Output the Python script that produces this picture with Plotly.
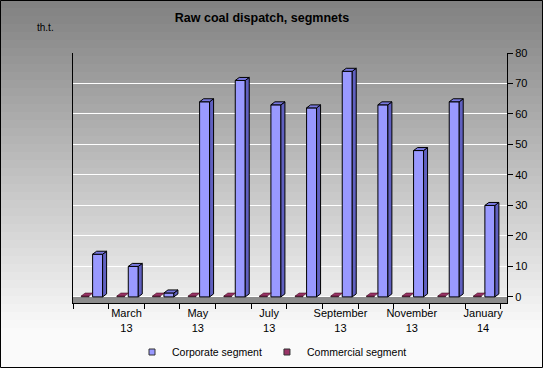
import plotly.graph_objects as go

# ---- data ----
months = ["February 13", "March 13", "April 13", "May 13", "June 13", "July 13",
          "August 13", "September 13", "October 13", "November 13", "December 13", "January 14"]
tick_labels = ["", "March<br>13", "", "May<br>13", "", "July<br>13",
               "", "September<br>13", "", "November<br>13", "", "January<br>14"]
corporate = [14, 10, 1.3, 64, 71, 63, 62, 74, 63, 48, 64, 30]
commercial = [0.3, 0.3, 0.3, 0.3, 0.3, 0.3, 0.3, 0.3, 0.3, 0.3, 0.3, 0.3]
y_ticks = [0, 10, 20, 30, 40, 50, 60, 70, 80]
series_names = ["Corporate segment", "Commercial segment"]

W, H = 543, 368
L, R, T, B = 73, 36, 53, 65
PW, PH = W - L - R, H - T - B
XR = [0.5, 12.67]
YR = [-2, 80]

xpos = list(range(1, len(months) + 1))

CORP_OFF, CORP_W = 0.05, 0.28
COM_OFF, COM_W = -0.27, 0.22
DX = 4 / (PW / (XR[1] - XR[0]))
DY = 3 / (PH / (YR[1] - YR[0]))

CORP_COL, COM_COL = "#9999ff", "#993366"

fig = go.Figure()

def faces(vals, off, w):
    sx, sy, tx, ty = [], [], [], []
    for c, v in zip(xpos, vals):
        xl = c + off
        xr = xl + w
        sx += [xr, xr + DX, xr + DX, xr, xr, None]
        sy += [0, DY, v + DY, v, 0, None]
        tx += [xl, xl + DX, xr + DX, xr, xl, None]
        ty += [v, v + DY, v + DY, v, v, None]
    return sx, sy, tx, ty

fig.add_trace(go.Bar(x=xpos, y=corporate, name=series_names[0], offset=CORP_OFF, width=CORP_W,
                     marker=dict(color=CORP_COL, line=dict(color="#000000", width=1)),
                     showlegend=False))
fig.add_trace(go.Bar(x=xpos, y=commercial, name=series_names[1], offset=COM_OFF, width=COM_W,
                     marker=dict(color=COM_COL, line=dict(color="#000000", width=0.5)),
                     showlegend=False))

sx, sy, tx, ty = faces(corporate, CORP_OFF, CORP_W)
fig.add_trace(go.Scatter(x=sx, y=sy, mode="lines", fill="toself", fillcolor="#6060c0",
                         line=dict(color="#000000", width=1), showlegend=False, hoverinfo="skip"))
fig.add_trace(go.Scatter(x=tx, y=ty, mode="lines", fill="toself", fillcolor="#7878e0",
                         line=dict(color="#000000", width=1), showlegend=False, hoverinfo="skip"))
sx, sy, tx, ty = faces(commercial, COM_OFF, COM_W)
fig.add_trace(go.Scatter(x=tx, y=ty, mode="lines", fill="toself", fillcolor=COM_COL,
                         line=dict(color="#330011", width=0.5), showlegend=False, hoverinfo="skip"))

# legend entries (small square markers, as in the reference)
for nm, col in zip(series_names, [CORP_COL, COM_COL]):
    fig.add_trace(go.Scatter(x=[None], y=[None], mode="markers", name=nm,
                             marker=dict(symbol="square", size=6, color=col,
                                         line=dict(color="#333333", width=1))))

# background gradient bands (paper coordinates)
shapes = []
n = 46
for i in range(n):
    p0 = H * i / n
    p1 = H * (i + 1) / n + 0.5
    pm = (p0 + p1) / 2
    v = int(round(128 + (250 - 128) * min(pm / 330.0, 1.0)))
    col = f"rgb({v},{v},{v})"
    shapes.append(dict(type="rect", xref="paper", yref="paper",
                       x0=-L / PW, x1=(W - L) / PW,
                       y0=(PH + T - p1) / PH, y1=(PH + T - p0) / PH,
                       fillcolor=col, line=dict(width=0), layer="below"))
shapes.append(dict(type="rect", xref="paper", yref="y", x0=0, x1=1, y0=YR[0], y1=0,
                   fillcolor="#8c8c8c", line=dict(width=0), layer="below"))
shapes.append(dict(type="rect", xref="paper", yref="paper",
                   x0=-L / PW + 0.5 / PW, x1=(W - L) / PW - 0.5 / PW,
                   y0=-B / PH + 0.5 / PH, y1=(PH + T) / PH - 0.5 / PH,
                   fillcolor="rgba(0,0,0,0)", line=dict(color="#000000", width=1), layer="above"))

fig.update_layout(
    width=W, height=H,
    margin=dict(l=L, r=R, t=T, b=B, autoexpand=False),
    paper_bgcolor="white",
    plot_bgcolor="rgba(0,0,0,0)",
    barmode="overlay",
    font=dict(family="Liberation Sans, Arial, sans-serif", size=11, color="#000000"),
    title=dict(text="<b>Raw coal dispatch, segmnets</b>", x=262 / W, xref="container",
               y=1 - 18 / H, yref="container", yanchor="middle", xanchor="center",
               font=dict(size=12.5, color="#000000")),
    showlegend=True,
    legend=dict(orientation="h", x=(132 - L) / PW, xanchor="left",
                y=(PH + T - 352) / PH, yanchor="middle",
                font=dict(size=10.5), bgcolor="rgba(0,0,0,0)", itemwidth=30,
                traceorder="normal"),
    shapes=shapes,
    annotations=[dict(text="th.t.", xref="paper", yref="paper", x=(45 - L) / PW,
                      y=(PH + T - 28) / PH, showarrow=False, font=dict(size=10),
                      xanchor="center", yanchor="middle")],
    xaxis=dict(range=XR, tickvals=xpos, ticktext=tick_labels, ticks="", showgrid=False,
               zeroline=False, showline=True, linecolor="#000000", linewidth=1,
               tickfont=dict(size=11),
               minor=dict(tick0=0.5, dtick=1, ticks="outside", ticklen=5, tickcolor="#000000",
                          showgrid=False)),
    yaxis=dict(range=YR, side="right", tickvals=y_ticks, ticks="outside", ticklen=5,
               tickcolor="#000000", showgrid=True, gridcolor="#ffffff", gridwidth=1,
               zeroline=False, showline=True, linecolor="#000000", linewidth=1, mirror=True,
               tickfont=dict(size=11)),
)

fig.write_html("out.html", config={"displayModeBar": False},
               post_script="document.body.style.margin='0';")
